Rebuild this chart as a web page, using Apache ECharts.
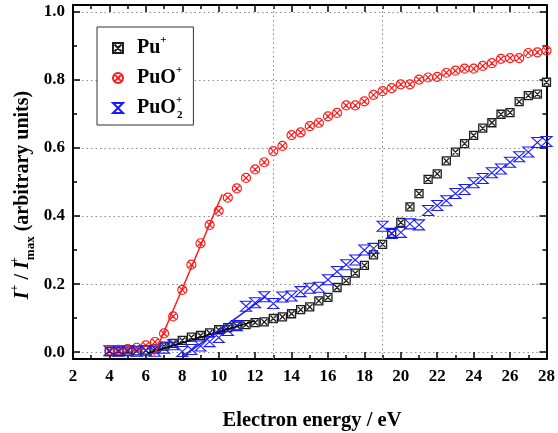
<!DOCTYPE html>
<html>
<head>
<meta charset="utf-8">
<script src="https://cdn.jsdelivr.net/npm/echarts@6/dist/echarts.min.js"></script>
<style>
  html, body { margin: 0; padding: 0; background: #fff; }
  #chart { width: 558px; height: 433px; }
</style>
</head>
<body>
<div id="chart"></div>
<script>
// Electron energy (eV) of each measured point
const energy = [
  4.0, 4.5, 5.0, 5.5, 6.0, 6.5, 7.0, 7.5, 8.0, 8.5, 9.0, 9.5, 10.0, 10.5, 11.0, 11.5,
  12.0, 12.5, 13.0, 13.5, 14.0, 14.5, 15.0, 15.5, 16.0, 16.5, 17.0, 17.5, 18.0, 18.5,
  19.0, 19.5, 20.0, 20.5, 21.0, 21.5, 22.0, 22.5, 23.0, 23.5, 24.0, 24.5, 25.0, 25.5,
  26.0, 26.5, 27.0, 27.5, 28.0
];

// Normalised ion signal I+/I+max
const puPlus = [
  0.002, 0.002, 0.003, 0.004, 0.006, 0.010, 0.018, 0.026, 0.035, 0.044, 0.049, 0.057,
  0.066, 0.072, 0.077, 0.081, 0.087, 0.089, 0.099, 0.104, 0.113, 0.125, 0.133, 0.151,
  0.161, 0.190, 0.210, 0.232, 0.255, 0.286, 0.317, 0.349, 0.381, 0.427, 0.466, 0.508,
  0.524, 0.562, 0.588, 0.613, 0.637, 0.658, 0.674, 0.699, 0.704, 0.736, 0.754, 0.758, 0.793
];
const puoPlus = [
  0.005, 0.007, 0.009, 0.013, 0.020, 0.030, 0.055, 0.105, 0.183, 0.257, 0.320, 0.374,
  0.415, 0.454, 0.481, 0.512, 0.537, 0.558, 0.591, 0.606, 0.638, 0.646, 0.664, 0.674,
  0.693, 0.703, 0.725, 0.725, 0.737, 0.756, 0.767, 0.776, 0.787, 0.787, 0.801, 0.807,
  0.809, 0.821, 0.827, 0.833, 0.833, 0.841, 0.849, 0.862, 0.864, 0.864, 0.879, 0.881, 0.886
];
const puo2Plus = [
  0.004, 0.003, 0.004, 0.003, 0.004, 0.003, 0.012, 0.022, 0.002, 0.008, 0.018, 0.031,
  0.043, 0.064, 0.078, 0.135, 0.145, 0.163, 0.143, 0.162, 0.165, 0.178, 0.188, 0.191,
  0.213, 0.237, 0.257, 0.271, 0.300, 0.305, 0.370, 0.349, 0.352, 0.377, 0.374, 0.416,
  0.431, 0.445, 0.466, 0.478, 0.498, 0.510, 0.527, 0.538, 0.558, 0.574, 0.588, 0.616, 0.619
];

// Linear onset fits [energy, signal]
const puFit   = [[6.1, -0.003], [12.0, 0.092]];
const puoFit  = [[6.45, -0.009], [10.2, 0.464]];
const puo2Fit = [[8.1, -0.010], [12.6, 0.164]];

// Dotted reference energies
const refEnergies = [13, 19];

const seriesNames = ['Pu+', 'PuO+', 'PuO2+'];

const FONT = "'Liberation Serif', 'Times New Roman', serif";

// Marker outlines
const SYM_SQUARE_X = 'path://M0,0L10,0L10,10L0,10Z M1.5,1.5L8.5,8.5 M8.5,1.5L1.5,8.5';
const SYM_CIRCLE_X = 'path://M10,5A5,5 0 1,1 0,5A5,5 0 1,1 10,5Z M1.6,1.6L8.4,8.4 M8.4,1.6L1.6,8.4';
const SYM_HOURGLASS = 'path://M0,0L10,0L0,10L10,10Z';

function pairs(xs, ys) { return xs.map((x, i) => [x, ys[i]]); }

const legendLabels = {
  'Pu+': '{t|Pu}{sup|+}',
  'PuO+': '{t|PuO}{sup|+}',
  'PuO2+': '{t|PuO}{supz|+}{sub|2}'
};

const tickFont = { fontFamily: FONT, fontWeight: 'bold', fontSize: 17, color: '#000' };

function makeAxisCommon() {
  return {
    axisLine: { show: true, onZero: false, lineStyle: { color: '#000', width: 2 } },
    axisTick: { show: true, inside: true, length: 7, lineStyle: { color: '#000', width: 1.5 } },
    minorTick: { show: true, splitNumber: 2, length: 4, lineStyle: { color: '#000', width: 1.5 } }
  };
}

const chart = echarts.init(document.getElementById('chart'), null, { renderer: 'canvas' });

const option = {
  animation: false,
  backgroundColor: '#fff',
  grid: { left: 73, right: 8, top: 5, bottom: 74, containLabel: false },
  xAxis: [
    Object.assign(makeAxisCommon(), {
      type: 'value', min: 2, max: 28, interval: 2, position: 'bottom',
      axisLabel: Object.assign({ margin: 9 }, tickFont),
      splitLine: { show: false }
    }),
    Object.assign(makeAxisCommon(), {
      type: 'value', min: 2, max: 28, interval: 2, position: 'top',
      axisLabel: { show: false }, splitLine: { show: false }
    })
  ],
  yAxis: [
    Object.assign(makeAxisCommon(), {
      type: 'value', min: -0.02, max: 1.02, splitNumber: 5, position: 'left',
      axisLabel: Object.assign({
        margin: 8, showMinLabel: false, showMaxLabel: false,
        formatter: v => v.toFixed(1)
      }, tickFont),
      splitLine: { show: true, lineStyle: { color: '#8c8c8c', type: [1.5, 3], width: 1 } }
    }),
    Object.assign(makeAxisCommon(), {
      type: 'value', min: -0.02, max: 1.02, splitNumber: 5, position: 'right',
      axisLabel: { show: false }, splitLine: { show: false }
    })
  ],
  legend: {
    orient: 'vertical', left: 97, top: 27,
    data: seriesNames,
    selectedMode: false,
    itemWidth: 10, itemHeight: 10, itemGap: 7,
    padding: [8, 11, 4, 15],
    borderColor: '#333', borderWidth: 1, backgroundColor: '#fff',
    formatter: n => legendLabels[n],
    textStyle: {
      rich: {
        t: { fontFamily: FONT, fontWeight: 'bold', fontSize: 20, color: '#000', lineHeight: 26, padding: [0, 0, 0, 9] },
        sup: { fontFamily: FONT, fontWeight: 'bold', fontSize: 11, color: '#000', lineHeight: 12, verticalAlign: 'top' },
        supz: { fontFamily: FONT, fontWeight: 'bold', fontSize: 11, color: '#000', lineHeight: 12, verticalAlign: 'top', width: 1, align: 'left' },
        sub: { fontFamily: FONT, fontWeight: 'bold', fontSize: 11, color: '#000', lineHeight: 12, verticalAlign: 'bottom' }
      }
    }
  },
  graphic: [
    {
      type: 'text', x: 23, y: 195, rotation: Math.PI / 2,
      style: {
        text: '{i|I}{sup|+}{n| / }{i|I}{supz|+}{sub|max}{n| (arbitrary units)}',
        align: 'center', verticalAlign: 'middle',
        textAlign: 'center', textVerticalAlign: 'middle',
        rich: {
          i: { fontFamily: FONT, fontWeight: 'bold', fontStyle: 'italic', fontSize: 20, fill: '#000', lineHeight: 28 },
          n: { fontFamily: FONT, fontWeight: 'bold', fontSize: 20, fill: '#000', lineHeight: 28 },
          sup: { fontFamily: FONT, fontWeight: 'bold', fontSize: 12, fill: '#000', lineHeight: 13, verticalAlign: 'top' },
          supz: { fontFamily: FONT, fontWeight: 'bold', fontSize: 12, fill: '#000', lineHeight: 13, verticalAlign: 'top', width: 1, align: 'left' },
          sub: { fontFamily: FONT, fontWeight: 'bold', fontSize: 13, fill: '#000', lineHeight: 13, verticalAlign: 'bottom' }
        }
      }
    },
    {
      type: 'text', x: 312, y: 421,
      style: {
        text: 'Electron energy / eV',
        fontFamily: FONT, fontWeight: 'bold', fontSize: 20.5, fill: '#000',
        align: 'center', verticalAlign: 'middle',
        textAlign: 'center', textVerticalAlign: 'middle'
      }
    }
  ],
  series: [
    {
      name: 'Pu+', type: 'scatter', data: pairs(energy, puPlus),
      symbol: SYM_SQUARE_X, symbolSize: 8,
      itemStyle: { color: '#fff', borderColor: '#1e1e1e', borderWidth: 1.3, opacity: 1 },
      z: 3
    },
    {
      name: 'PuO+', type: 'scatter', data: pairs(energy, puoPlus),
      symbol: SYM_CIRCLE_X, symbolSize: 9,
      itemStyle: { color: 'rgba(255,255,255,0)', borderColor: '#ff1a1a', borderWidth: 1.2, opacity: 1 },
      z: 3
    },
    {
      name: 'PuO2+', type: 'scatter', data: pairs(energy, puo2Plus),
      symbol: SYM_HOURGLASS, symbolSize: [11, 10],
      itemStyle: { color: 'rgba(255,255,255,0)', borderColor: '#1a1aff', borderWidth: 1.1, opacity: 1 },
      z: 3
    },
    {
      name: 'Pu+ fit', type: 'line', data: puFit, symbol: 'none',
      lineStyle: { color: '#000', width: 1.5 }, z: 4,
      markLine: {
        silent: true, symbol: 'none', label: { show: false },
        lineStyle: { color: '#8c8c8c', type: [1.5, 3], width: 1 },
        data: refEnergies.map(e => ({ xAxis: e }))
      }
    },
    {
      name: 'PuO+ fit', type: 'line', data: puoFit, symbol: 'none',
      lineStyle: { color: '#ff1a1a', width: 1.5 }, z: 4
    },
    {
      name: 'PuO2+ fit', type: 'line', data: puo2Fit, symbol: 'none',
      lineStyle: { color: '#1a1aff', width: 1.5 }, z: 4
    }
  ]
};

chart.setOption(option);
</script>
</body>
</html>
